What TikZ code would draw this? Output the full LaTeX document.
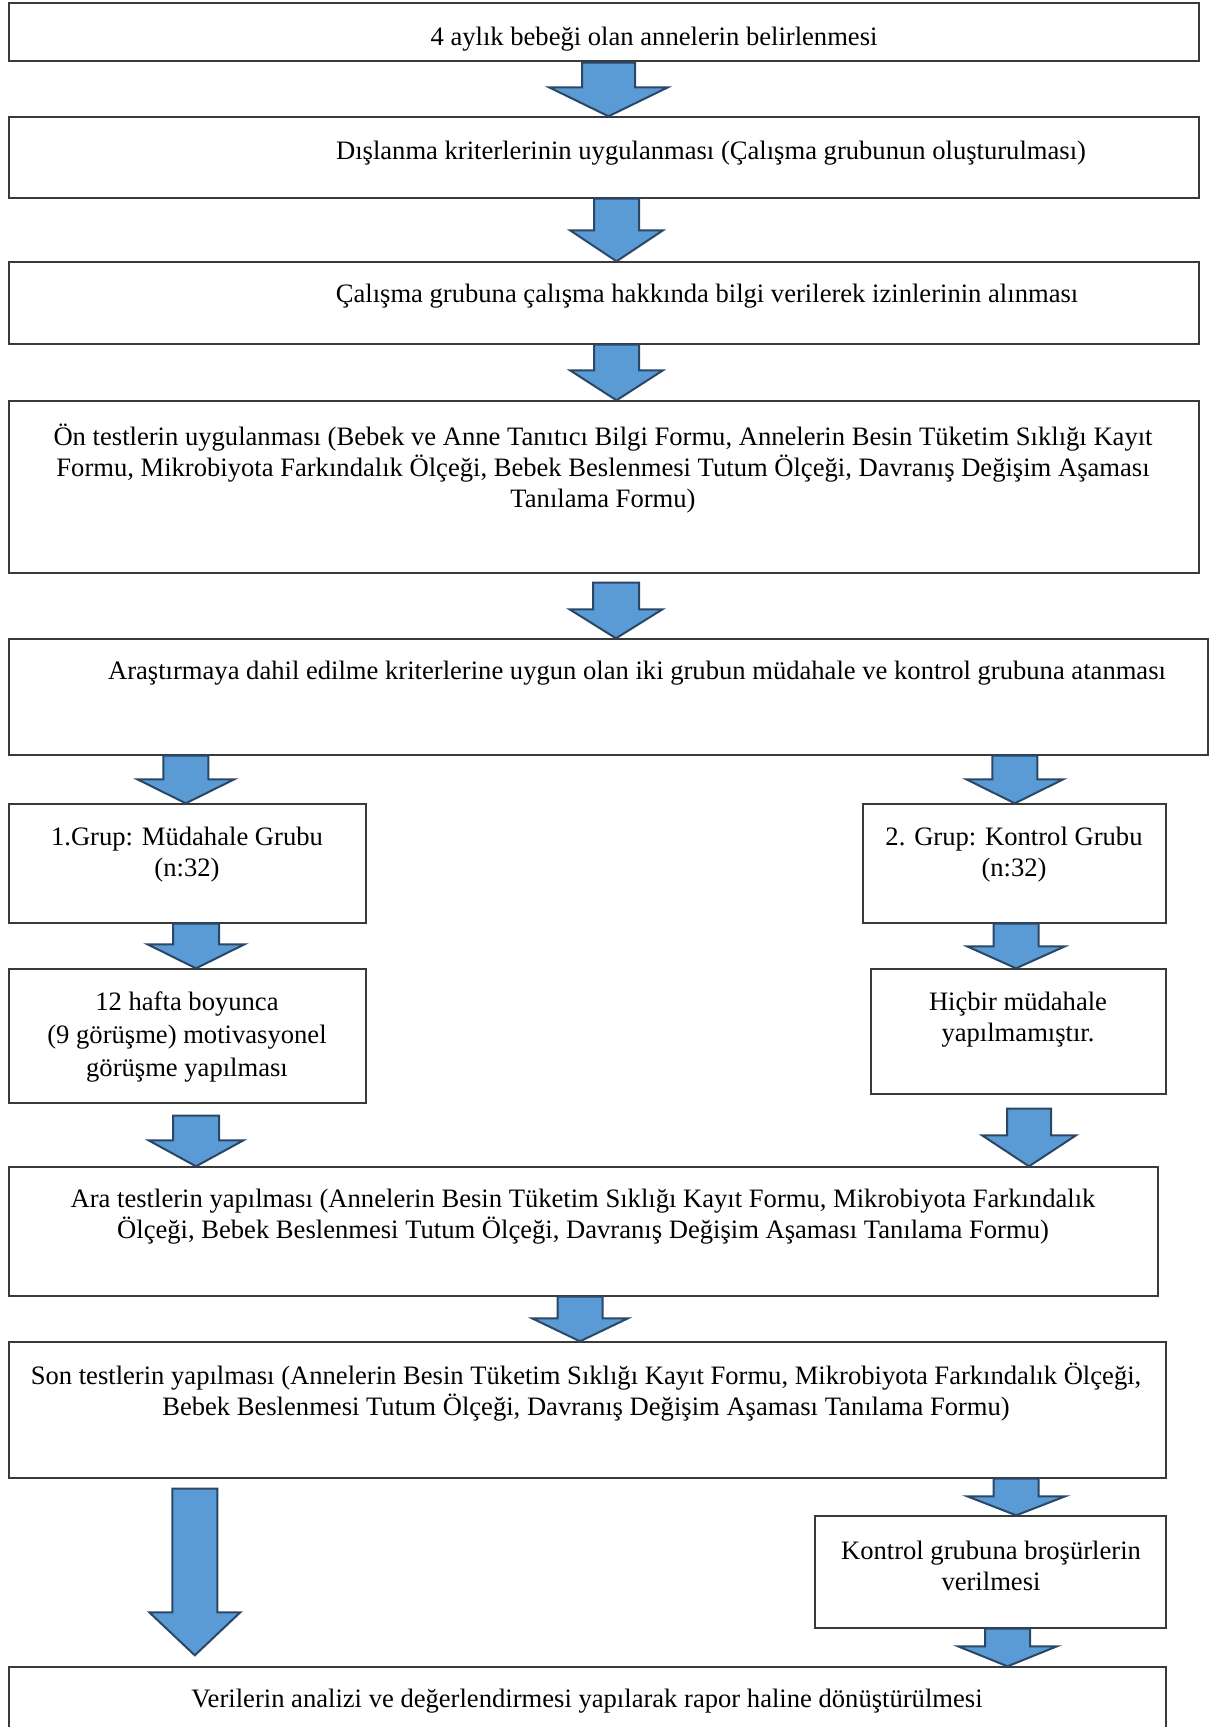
\documentclass[tikz,border=0pt]{standalone}
\usepackage{fontspec}
\setmainfont{LiberationSerif}[Extension=.ttf, UprightFont=*-Regular, BoldFont=*-Bold]
\usepackage{xcolor}
\usetikzlibrary{calc}
\definecolor{C_ARR} {HTML}{5B9BD5}
\definecolor{C_ARRD}{HTML}{2A4766}
\definecolor{C_LINE}{HTML}{3A3A3A}

\begin{document}
\begin{tikzpicture}[
  x=0.5pt, y=-0.5pt,
  every node/.style={font=\fontsize{13.3}{15.5}\selectfont},
  box/.style={draw=C_LINE, line width=0.7pt, inner sep=0pt},
  txt/.style={inner sep=0pt, align=center, yshift=-1.25pt},
  fatarrow/.style args={#1/#2/#3}{fill=C_ARR, draw=C_ARRD, line width=1pt,
    to path={let \p1=(\tikztostart), \p2=(\tikztotarget) in
      (\x1-#1,\y1) -- (\x1-#1,\y2+#3) -- (\x1-#2,\y2+#3) -- (\x1,\y2)
      -- (\x1+#2,\y2+#3) -- (\x1+#1,\y2+#3) -- (\x1+#1,\y1) -- cycle}},
]
\useasboundingbox (0,0) rectangle (1210,1727);

%% boxes
\node[box, minimum width=595pt,   minimum height=29pt]   (b1)  at (604,32)      {};
\node[box, minimum width=595pt,   minimum height=40.5pt] (b2)  at (604,157.5)   {};
\node[box, minimum width=595pt,   minimum height=41pt]   (b3)  at (604,303)     {};
\node[box, minimum width=595pt,   minimum height=86pt]   (b4)  at (604,487)     {};
\node[box, minimum width=599.5pt, minimum height=58pt]   (b5)  at (608.5,697)   {};
\node[box, minimum width=178.5pt, minimum height=59.5pt] (gl1) at (187.5,863.5) {};
\node[box, minimum width=151.5pt, minimum height=59.5pt] (gr1) at (1014.5,863.5){};
\node[box, minimum width=178.5pt, minimum height=67pt]   (gl2) at (187.5,1036)  {};
\node[box, minimum width=147.5pt, minimum height=62.5pt] (gr2) at (1018.5,1031.5){};
\node[box, minimum width=574.5pt, minimum height=64.5pt] (b8)  at (583.5,1231.5){};
\node[box, minimum width=578.5pt, minimum height=68pt]   (b9)  at (587.5,1410)  {};
\node[box, minimum width=175.5pt, minimum height=56pt]   (gr3) at (990.5,1572)  {};
\node[box, minimum width=578.5pt, minimum height=46.5pt] (b10) at (587.5,1713.5){};

%% texts
\node[txt] (t1)  at (654,37)    {4 aylık bebeği olan annelerin belirlenmesi};
\node[txt] (t2)  at (711,151)   {Dışlanma kriterlerinin uygulanması (Çalışma grubunun oluşturulması)};
\node[txt] (t3)  at (707,294)   {Çalışma grubuna çalışma hakkında bilgi verilerek izinlerinin alınması};
\node[txt] (t4)  at (603,466)   {Ön testlerin uygulanması (Bebek ve Anne Tanıtıcı Bilgi Formu, Annelerin Besin Tüketim Sıklığı Kayıt\\
  Formu, Mikrobiyota Farkındalık Ölçeği, Bebek Beslenmesi Tutum Ölçeği, Davranış Değişim Aşaması\\
  Tanılama Formu)};
\node[txt] (t5)  at (637,671)   {Araştırmaya dahil edilme kriterlerine uygun olan iki grubun müdahale ve kontrol grubuna atanması};
\node[txt] (tl1) at (187,852)   {1.Grup: Müdahale Grubu\\(n:32)};
\node[txt] (tr1) at (1014,852)  {2. Grup: Kontrol Grubu\\(n:32)};
\node[txt, font=\fontsize{13.3}{16.5}\selectfont] (tl2) at (187,1034)
  {12 hafta boyunca\\(9 görüşme) motivasyonel\\görüşme yapılması};
\node[txt] (tr2) at (1018,1017) {Hiçbir müdahale\\yapılmamıştır.};
\node[txt] (t8)  at (583,1214.5){Ara testlerin yapılması (Annelerin Besin Tüketim Sıklığı Kayıt Formu, Mikrobiyota Farkındalık\\
  Ölçeği, Bebek Beslenmesi Tutum Ölçeği, Davranış Değişim Aşaması Tanılama Formu)};
\node[txt] (t9)  at (586,1389.5){Son testlerin yapılması (Annelerin Besin Tüketim Sıklığı Kayıt Formu, Mikrobiyota Farkındalık Ölçeği,\\
  Bebek Beslenmesi Tutum Ölçeği, Davranış Değişim Aşaması Tanılama Formu)};
\node[txt] (tr3) at (991,1563.5){Kontrol grubuna broşürlerin\\verilmesi};
\node[txt] (t10) at (587,1699)  {Verilerin analizi ve değerlendirmesi yapılarak rapor haline dönüştürülmesi};

%% block arrows
\draw[fatarrow=13.25pt/29.75pt/14.5pt] ([xshift=2.25pt,yshift=-0.5pt]b1.south) to (b2.north);
\draw[fatarrow=11.25pt/23.25pt/15.5pt] ([xshift=6.25pt]b2.south) to (b3.north);
\draw[fatarrow=11.25pt/23.25pt/15pt]   ([xshift=6.25pt]b3.south) to (b4.north);
\draw[fatarrow=11.5pt/23.25pt/14.5pt]  ([xshift=6pt,yshift=-4.5pt]b4.south) to (b5.north);
\draw[fatarrow=11.25pt/24.25pt/12pt]   ([xshift=88.75pt]b5.south west) to (gl1.north);
\draw[fatarrow=11.25pt/24.25pt/12pt]   ([xshift=503.25pt]b5.south west) to (gr1.north);
\draw[fatarrow=11.5pt/24.25pt/12pt]    ([xshift=4.25pt]gl1.south) to (gl2.north);
\draw[fatarrow=11.25pt/24.5pt/11pt]    ([xshift=0.75pt]gr1.south) to (gr2.north);
\draw[fatarrow=11.5pt/23.75pt/13pt]    ([xshift=4.25pt,yshift=-6pt]gl2.south) to (b8.north);
\draw[fatarrow=11pt/23.5pt/15.5pt]     ([xshift=5.25pt,yshift=-7pt]gr2.south) to (b8.north -| gr2.south);
\draw[fatarrow=11.25pt/24pt/11.5pt]    ([xshift=-1.75pt]b8.south) to (b9.north);
\draw[fatarrow=11.25pt/22.75pt/21.5pt] ([xshift=93.25pt,yshift=-5pt]b9.south west) to ([yshift=5.5pt]b10.north);
\draw[fatarrow=11.25pt/24.5pt/9.5pt]   ([xshift=-75.25pt]b9.south east) to (gr3.north);
\draw[fatarrow=11.25pt/24.75pt/10pt]   ([xshift=8.5pt]gr3.south) to (b10.north -| gr3.south);

\end{tikzpicture}
\end{document}
